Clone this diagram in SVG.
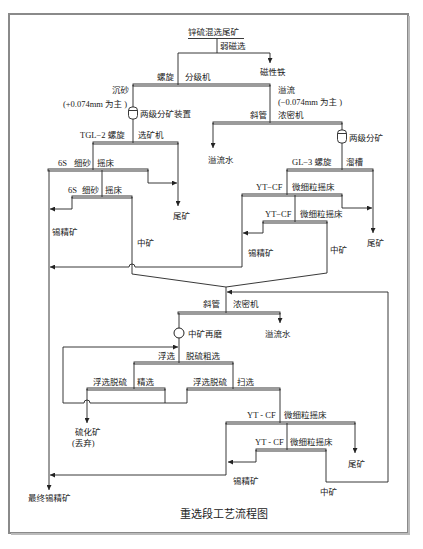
<svg xmlns="http://www.w3.org/2000/svg" width="423" height="549" viewBox="0 0 423 549">
<defs>
<style>
text{font-family:'Liberation Serif','Noto Sans CJK SC',serif;font-size:8.5px;fill:#222}
.t{font-size:11px}
.c{stroke:#222;stroke-width:0.9;fill:none}
.bar{fill:none;stroke:#222;stroke-width:0.9}
</style>
<marker id="a" viewBox="0 0 10 10" refX="10" refY="5" markerWidth="6" markerHeight="5" orient="auto" markerUnits="userSpaceOnUse"><path d="M0,0 L10,5 L0,10 z" fill="#222"/></marker>
</defs>
<rect width="423" height="549" fill="#fff"/>
<g id="frame">
<rect x="9" y="14" width="399" height="519" fill="#fff" stroke="#8a8a8a" stroke-width="2"/>
<path d="M409,16 V534 H11" fill="none" stroke="#bbb" stroke-width="2"/>
</g>
<g id="connectors">
<path class="c" d="M188,38.5 H244"/>
<path class="c" d="M217,38.5 V53"/>
<path class="c" d="M178,53 H270 V63" marker-end="url(#a)"/>
<path class="c" d="M178,53 V85"/>
<path class="c" d="M133,85 V107 M133,119 V143"/>
<path class="c" d="M270,85 V123"/>
<path class="c" d="M93,143 V170"/>
<path class="c" d="M178,143 V206" marker-end="url(#a)"/>
<path class="c" d="M148,170 V183 H177" marker-end="url(#a)"/>
<path class="c" d="M49,170 V490" marker-end="url(#a)"/>
<path class="c" d="M102,170 V197"/>
<path class="c" d="M72,197 V209 H50" marker-end="url(#a)"/>
<path class="c" d="M132,197 V274 L226,287"/>
<path class="c" d="M242,195 V267 H135 A3,3 0 0 0 129,267 H50" marker-end="url(#a)"/>
<path class="c" d="M213,123 V148" marker-end="url(#a)"/>
<path class="c" d="M342,123 V130 M342,143 V170"/>
<path class="c" d="M373,170 V233" marker-end="url(#a)"/>
<path class="c" d="M287,170 V195"/>
<path class="c" d="M342,195 V208 H372" marker-end="url(#a)"/>
<path class="c" d="M295,195 V222"/>
<path class="c" d="M263,222 V233 H243" marker-end="url(#a)"/>
<path class="c" d="M327,222 V273 L226,287 V313"/>
<path class="c" d="M388,482 V292 H227" marker-end="url(#a)"/>
<path class="c" d="M280,313 V323" marker-end="url(#a)"/>
<path class="c" d="M179,313 V328 M179,338 V363"/>
<path class="c" d="M134,363 V389 M233,363 V389"/>
<path class="c" d="M165,389 V403"/>
<path class="c" d="M187,389 V403 H90 A3,3 0 0 0 84,403 H63 V347 H178" marker-end="url(#a)"/>
<path class="c" d="M87,389 V423" marker-end="url(#a)"/>
<path class="c" d="M280,389 V423"/>
<path class="c" d="M355,423 V453" marker-end="url(#a)"/>
<path class="c" d="M287,423 V450"/>
<path class="c" d="M256,450 V462 H228" marker-end="url(#a)"/>
<path class="c" d="M226,423 V475 H50" marker-end="url(#a)"/>
<path class="c" d="M326,450 V482 H388"/>
</g>
<g id="feed"><text x="188" y="35" font-size="9.5">锌硫混选尾矿</text></g>
<g id="magsep"><text x="220" y="49">弱磁选</text></g>
<g id="magiron"><text x="260" y="75">磁性铁</text></g>
<g id="classifier"><rect class="bar" x="133" y="84" width="137" height="2"/><text x="157" y="80">螺旋</text><text x="185" y="80">分级机</text></g>
<g id="sand"><text x="112" y="93">沉砂</text><text x="63" y="107" font-size="8">(+0.074mm 为主 )</text></g>
<g id="overflow"><text x="278" y="93">溢流</text><text x="278" y="105" font-size="8">(−0.074mm 为主 )</text></g>
<g id="splitter1"><rect x="128.5" y="107" width="9" height="12" rx="3.5" fill="#fff" stroke="#222" stroke-width="0.9"/><path class="c" d="M128.5,110.5 H137.5"/><text x="140" y="117">两级分矿装置</text></g>
<g id="tgl2"><rect class="bar" x="93" y="142" width="85" height="2"/><text x="80" y="138">TGL−2 螺旋</text><text x="138" y="138">选矿机</text></g>
<g id="tail1"><text x="173" y="219">尾矿</text></g>
<g id="table6s1"><rect class="bar" x="48" y="169" width="100" height="2"/><text x="58" y="166">6S</text><text x="74" y="166">细砂</text><text x="97" y="166">摇床</text></g>
<g id="table6s2"><rect class="bar" x="72" y="196" width="60" height="2"/><text x="68" y="193">6S</text><text x="82" y="193">细砂</text><text x="105" y="193">摇床</text></g>
<g id="conc1"><text x="52" y="235">锡精矿</text></g>
<g id="mid1"><text x="137" y="246">中矿</text></g>
<g id="thick1"><rect class="bar" x="213" y="122" width="129" height="2"/><text x="250" y="118">斜管</text><text x="278" y="118">浓密机</text></g>
<g id="ovw1"><text x="208" y="163">溢流水</text></g>
<g id="splitter2"><rect x="337.5" y="130" width="9" height="13" rx="3.5" fill="#fff" stroke="#222" stroke-width="0.9"/><path class="c" d="M337.5,133.5 H346.5"/><text x="349" y="141">两级分矿</text></g>
<g id="gl3"><rect class="bar" x="287" y="169" width="86" height="2"/><text x="292" y="165">GL−3 螺旋</text><text x="346" y="165">溜槽</text></g>
<g id="tail2"><text x="367" y="246">尾矿</text></g>
<g id="ytcf1"><rect class="bar" x="242" y="194" width="100" height="2"/><text x="256" y="190">YT−CF</text><text x="292" y="190">微细粒摇床</text></g>
<g id="ytcf2"><rect class="bar" x="263" y="221" width="64" height="2"/><text x="265" y="217">YT−CF</text><text x="300" y="217">微细粒摇床</text></g>
<g id="conc2"><text x="248" y="256">锡精矿</text></g>
<g id="mid2"><text x="330" y="253">中矿</text></g>
<g id="thick2"><rect class="bar" x="178" y="312" width="102" height="2"/><text x="203" y="307">斜管</text><text x="233" y="307">浓密机</text></g>
<g id="ovw2"><text x="265" y="337">溢流水</text></g>
<g id="regrind"><circle cx="179" cy="333" r="5" fill="#fff" stroke="#222" stroke-width="1"/><text x="188" y="337">中矿再磨</text></g>
<g id="rougher"><rect class="bar" x="134" y="362" width="99" height="2"/><text x="158" y="359">浮选</text><text x="186" y="359">脱硫粗选</text></g>
<g id="cleaner"><rect class="bar" x="87" y="388" width="78" height="2"/><text x="93" y="385">浮选脱硫</text><text x="137" y="385">精选</text></g>
<g id="scavenger"><rect class="bar" x="187" y="388" width="93" height="2"/><text x="193" y="385">浮选脱硫</text><text x="237" y="385">扫选</text></g>
<g id="sulfide"><text x="75" y="435">硫化矿</text><text x="72" y="446">(丢弃)</text></g>
<g id="ytcf3"><rect class="bar" x="226" y="422" width="129" height="2"/><text x="247" y="418">YT - CF</text><text x="284" y="418">微细粒摇床</text></g>
<g id="ytcf4"><rect class="bar" x="256" y="449" width="70" height="2"/><text x="255" y="445">YT - CF</text><text x="290" y="445">微细粒摇床</text></g>
<g id="tail3"><text x="348" y="467">尾矿</text></g>
<g id="conc3"><text x="233" y="484">锡精矿</text></g>
<g id="mid3"><text x="320" y="495">中矿</text></g>
<g id="final"><text x="28" y="501">最终锡精矿</text></g>
<g id="title"><text class="t" x="224" y="518" text-anchor="middle">重选段工艺流程图</text></g>
</svg>
